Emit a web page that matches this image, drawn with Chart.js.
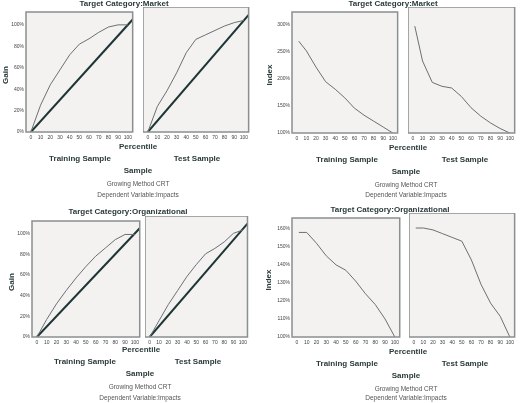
<!DOCTYPE html>
<html>
<head>
<meta charset="utf-8">
<script src="https://cdn.jsdelivr.net/npm/chart.js@4"></script>
<style>
  body { margin: 0; background: #fff; font-family: "Liberation Sans", Arial, sans-serif; }
  #wrap { position: relative; width: 520px; height: 403px; overflow: hidden; }
  canvas { position: absolute; }
  .t { position: absolute; transform: translate(-50%, -50%); white-space: nowrap; color: #333; }
  .b { font-weight: bold; font-size: 8px; color: #2b3a3a; }
  .s { font-size: 6.5px; color: #555; }
</style>
</head>
<body>
<div id="wrap"></div>
<script>
// percentiles
var gainX = [0, 10, 20, 30, 40, 50, 60, 70, 80, 90, 100];
var indexX = [2, 10, 20, 30, 40, 50, 60, 70, 80, 90, 100];
var diagX = [0, 105];
var diagY = [0, 105];

// gain (%)
var gainMarketTrain = [0, 25, 44, 58, 72, 82, 87, 93, 98, 100, 100];
var gainMarketTest = [0, 23, 37, 53, 71, 83, 87, 91, 95, 98, 100];
var gainOrgTrain = [0, 17, 32, 45, 57, 68, 78, 86, 94, 99, 99];
var gainOrgTest = [0, 15, 30, 43, 56, 67, 77, 82, 88, 96, 99];

// index (%)
var indexMarketTrain = [270, 252, 222, 195, 181, 165, 146, 133, 122, 111, 100];
var indexMarketTest = [290, 228, 190, 183, 180, 165, 145, 130, 118, 108, 100];
var indexOrgTrain = [158, 158, 152, 145, 140, 137, 131, 124, 118, 110, 100];
var indexOrgTest = [158, 158, 157, 155, 153, 151, 141, 128, 118, 111, 100];

var xTicks = [0, 10, 20, 30, 40, 50, 60, 70, 80, 90, 100];
var gainTicks = [0, 20, 40, 60, 80, 100];
var mIdxTicks = [100, 150, 200, 250, 300];
var oIdxTicks = [100, 110, 120, 130, 140, 150, 160];

var wrap = document.getElementById('wrap');

var boxPlugin = {
    id: 'box',
    beforeDatasetsDraw: function(chart) {
        var a = chart.chartArea, c = chart.ctx;
        c.save();
        c.fillStyle = '#f3f2f1';
        c.fillRect(a.left, a.top, a.right - a.left, a.bottom - a.top);
        c.restore();
    },
    afterDraw: function(chart) {
        var a = chart.chartArea, c = chart.ctx;
        c.save();
        c.strokeStyle = '#8a8f8f';
        c.lineWidth = 1.5;
        c.strokeRect(a.left, a.top, a.right - a.left, a.bottom - a.top);
        c.restore();
    }
};

function pts(xs, ys) {
    return xs.map(function(x, i) { return { x: x, y: ys[i] }; });
}

// left/top/w/h = plot box in page pixels
function makeChart(left, top, w, h, showY, yMin, yMax, yTicks, xs, ys, diag) {
    var yw = showY ? 20 : 0;
    var cv = document.createElement('canvas');
    cv.style.left = (left - yw) + 'px';
    cv.style.top = top + 'px';
    cv.style.width = (w + yw) + 'px';
    cv.style.height = (h + 10) + 'px';
    cv.width = w + yw; cv.height = h + 10;
    wrap.appendChild(cv);
    var datasets = [{
        data: pts(xs, ys),
        borderColor: '#6a7070', borderWidth: 1, pointRadius: 0, tension: 0
    }];
    if (diag) {
        datasets.push({
            data: pts(diagX, diagY),
            borderColor: '#1e3535', borderWidth: 2, pointRadius: 0
        });
    }
    new Chart(cv, {
        type: 'line',
        data: { datasets: datasets },
        options: {
            responsive: false, animation: false,
            layout: { padding: 0 },
            plugins: { legend: { display: false }, tooltip: { enabled: false } },
            scales: {
                x: {
                    type: 'linear', min: -5, max: 105,
                    afterBuildTicks: function(s) { s.ticks = xTicks.map(function(v) { return { value: v }; }); },
                    afterFit: function(s) { s.height = 10; },
                    grid: { display: false, drawTicks: false },
                    border: { display: false },
                    ticks: { font: { size: 5 }, color: '#444', padding: 3, maxRotation: 0, autoSkip: false }
                },
                y: {
                    display: showY, min: yMin, max: yMax,
                    afterBuildTicks: function(s) { s.ticks = yTicks.map(function(v) { return { value: v }; }); },
                    afterFit: function(s) { s.width = yw; },
                    grid: { display: false, drawTicks: false },
                    border: { display: false },
                    ticks: { font: { size: 5 }, color: '#444', padding: 2, callback: function(v) { return v + '%'; } }
                }
            }
        },
        plugins: [boxPlugin]
    });
}

// top-left gain, market
makeChart(26, 7, 109, 125, true, 0, 112, gainTicks, gainX, gainMarketTrain, true);
makeChart(143, 7, 108, 125, false, 0, 112, gainTicks, gainX, gainMarketTest, true);
// top-right index, market
makeChart(292, 7, 108, 126, true, 100, 324, mIdxTicks, indexX, indexMarketTrain, false);
makeChart(408, 7, 109, 126, false, 100, 324, mIdxTicks, indexX, indexMarketTest, false);
// bottom-left gain, organizational
makeChart(32, 216, 110, 121, true, 0, 112, gainTicks, gainX, gainOrgTrain, true);
makeChart(145, 216, 105, 121, false, 0, 112, gainTicks, gainX, gainOrgTest, true);
// bottom-right index, organizational
makeChart(292, 213, 110, 124, true, 100, 166, oIdxTicks, indexX, indexOrgTrain, false);
makeChart(409, 213, 108, 124, false, 100, 166, oIdxTicks, indexX, indexOrgTest, false);

function txt(s, x, y, cls, rot) {
    var d = document.createElement('div');
    d.className = 't ' + cls;
    d.textContent = s;
    d.style.left = x + 'px';
    d.style.top = y + 'px';
    if (rot) d.style.transform = 'translate(-50%,-50%) rotate(-90deg)';
    wrap.appendChild(d);
}

function panelText(title, ylab, tx, ty, yx, yy, cx, px, py, trx, tex, sy) {
    txt(title, tx, ty, 'b');
    txt(ylab, yx, yy, 'b', true);
    txt('Percentile', px, py, 'b');
    txt('Training Sample', trx, py + 12, 'b');
    txt('Test Sample', tex, py + 12, 'b');
    txt('Sample', cx, py + 24, 'b');
    txt('Growing Method CRT', cx, py + 37, 's');
    txt('Dependent Variable:Impacts', cx, sy, 's');
}

panelText('Target Category:Market', 'Gain', 124, 3, 5, 75, 138, 138, 146, 80, 197, 194);
panelText('Target Category:Market', 'Index', 393, 3, 269, 75, 406, 408, 147, 347, 465, 194);
panelText('Target Category:Organizational', 'Gain', 128, 211, 11, 282, 140, 141, 349, 85, 198, 397);
panelText('Target Category:Organizational', 'Index', 390, 209, 268, 280, 406, 408, 351, 347, 465, 397);
</script>
</body>
</html>
